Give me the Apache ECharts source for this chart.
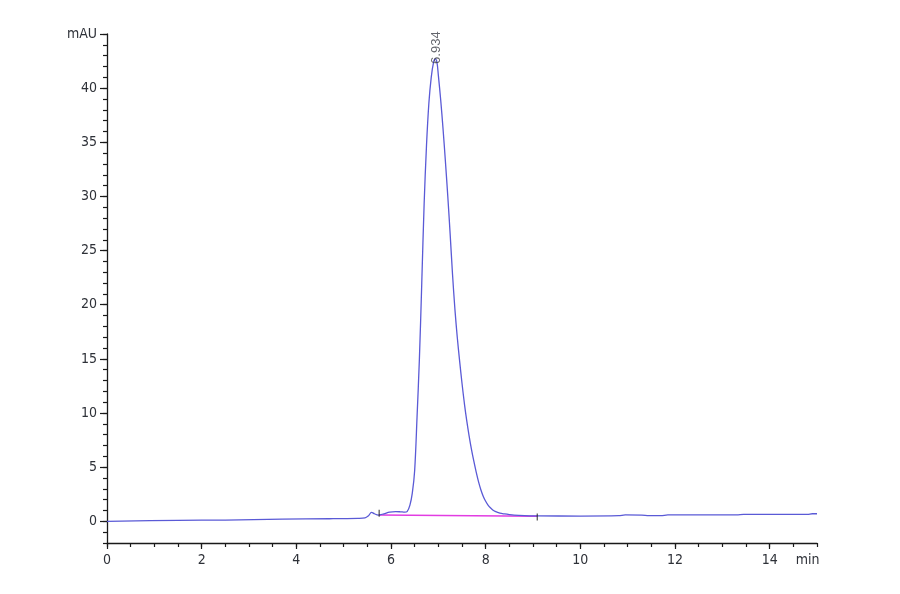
<!DOCTYPE html>
<html><head><meta charset="utf-8">
<script src="https://cdn.jsdelivr.net/npm/echarts@6/dist/echarts.min.js"></script>
<style>html,body{margin:0;padding:0;background:#fff}#c{width:900px;height:594px}</style>
</head><body><div id="c"></div>
<script>
// Chromatogram trace (retention time in min, absorbance in mAU)
const timeMin = [0, 1.5, 2.5, 3.7, 4.7, 5.3, 5.45, 5.52, 5.59, 5.65, 5.73, 5.85, 5.97, 6.1, 6.2, 6.29, 6.34,
  6.40, 6.45, 6.50, 6.55, 6.60, 6.65, 6.70, 6.75, 6.80, 6.85, 6.90, 6.934, 6.97,
  7.00, 7.05, 7.10, 7.15, 7.20, 7.25, 7.30, 7.35, 7.40, 7.45, 7.50, 7.55, 7.60, 7.65, 7.70, 7.75,
  7.80, 7.85, 7.90, 7.95, 8.00, 8.05, 8.10, 8.15, 8.20, 8.30, 8.40, 8.50, 8.60,
  9.09, 10.0, 10.81, 10.95, 11.3, 11.45, 11.7, 11.85, 13.3, 13.45, 14.8, 14.9, 15.0];
const signal = [0, 0.09, 0.12, 0.2, 0.24, 0.28, 0.32, 0.5, 0.82, 0.7, 0.58, 0.7, 0.85, 0.9, 0.88, 0.85, 0.9,
  1.5, 2.6, 4.7, 9.6, 15.0, 22.0, 29.3, 34.7, 38.6, 41.0, 42.4, 42.7, 42.4,
  41.2, 38.9, 36.2, 33.2, 30.0, 26.5, 22.8, 19.6, 17.0, 14.8, 12.75, 10.9, 9.3, 7.9, 6.65, 5.55,
  4.55, 3.65, 2.9, 2.3, 1.85, 1.5, 1.25, 1.05, 0.92, 0.76, 0.68, 0.62, 0.58,
  0.5, 0.49, 0.52, 0.6, 0.58, 0.52, 0.52, 0.6, 0.6, 0.64, 0.64, 0.7, 0.7];
// Integration baseline
const baselineTime = [5.75, 9.09];
const baselineVal = [0.58, 0.48];
// Integration start/end markers
const markerTime = [5.75, 9.09];
const markerVal = [0.75, 0.4];
// Peak annotation
const peakTime = 6.934;
const peakHeight = 42.7;
const peakLabel = '6.934';
// Axis ticks / labels
const xMajorTicks = [0, 2, 4, 6, 8, 10, 12, 14];
const xLabelValues = [0, 2, 4, 6, 8, 10, 12, 14, 14.8];
const xUnitLabel = 'min';
const yMajorTicks = [0, 5, 10, 15, 20, 25, 30, 35, 40, 45];
const yUnitLabel = 'mAU';

const trace = timeMin.map((t, i) => [t, signal[i]]);
const baseline = baselineTime.map((t, i) => [t, baselineVal[i]]);
const markers = markerTime.map((t, i) => [t, markerVal[i]]);

const font = '"DejaVu Sans Condensed", "Liberation Sans", Arial, sans-serif';
const axisColor = '#1a1a1a';
const labelColor = '#2e3138';

const chart = echarts.init(document.getElementById('c'), null, {renderer: 'canvas'});
chart.setOption({
  animation: false,
  backgroundColor: '#ffffff',
  grid: {left: 107, right: 83, top: 34, bottom: 51, containLabel: false},
  xAxis: [{
    type: 'value', min: 0, max: 15, position: 'bottom',
    axisLine: {show: true, onZero: false, lineStyle: {color: axisColor, width: 1.3}},
    axisTick: {show: true, customValues: xMajorTicks, length: 6, lineStyle: {color: axisColor, width: 1.2}},
    axisLabel: {show: true, customValues: xLabelValues, margin: 10, color: labelColor,
      fontFamily: font, fontSize: 14,
      formatter: v => (Math.abs(v - 14.8) < 1e-6 ? xUnitLabel : String(v))},
    splitLine: {show: false}
  }, {
    type: 'value', min: 0, max: 15, interval: 0.5, position: 'bottom',
    axisLine: {show: false, onZero: false},
    axisTick: {show: true, length: 4, lineStyle: {color: axisColor, width: 1.2}},
    axisLabel: {show: false},
    splitLine: {show: false}
  }],
  yAxis: [{
    type: 'value', min: -2, max: 45, position: 'left',
    axisLine: {show: true, onZero: false, lineStyle: {color: axisColor, width: 1.3}},
    axisTick: {show: true, customValues: yMajorTicks, length: 7, lineStyle: {color: axisColor, width: 1.2}},
    axisLabel: {show: true, customValues: yMajorTicks, margin: 10, color: labelColor,
      fontFamily: font, fontSize: 14,
      formatter: v => (v === 45 ? yUnitLabel : String(v))},
    splitLine: {show: false}
  }, {
    type: 'value', min: -2, max: 45, interval: 1, position: 'left',
    axisLine: {show: false, onZero: false},
    axisTick: {show: true, length: 4, lineStyle: {color: axisColor, width: 1.2}},
    axisLabel: {show: false},
    splitLine: {show: false}
  }],
  series: [{
    type: 'line', data: baseline, xAxisIndex: 0, yAxisIndex: 0,
    showSymbol: false, lineStyle: {color: '#e23ce2', width: 1.5}, z: 2
  }, {
    type: 'line', data: trace, xAxisIndex: 0, yAxisIndex: 0,
    showSymbol: false, smooth: 0.35,
    lineStyle: {color: '#5a5ad6', width: 1.3}, z: 3
  }, {
    type: 'scatter', data: markers, xAxisIndex: 0, yAxisIndex: 0,
    symbol: 'rect', symbolSize: [1.2, 7], itemStyle: {color: '#222'}, z: 4
  }, {
    type: 'scatter', data: [[peakTime, peakHeight]], xAxisIndex: 0, yAxisIndex: 0,
    symbolSize: 0, z: 5,
    label: {show: true, position: 'inside', rotate: 90, align: 'left', verticalAlign: 'middle',
      offset: [-5, 1], formatter: peakLabel, color: '#3c3f47',
      fontFamily: '"Liberation Sans", Arial, sans-serif', fontSize: 13}
  }]
});
</script></body></html>
